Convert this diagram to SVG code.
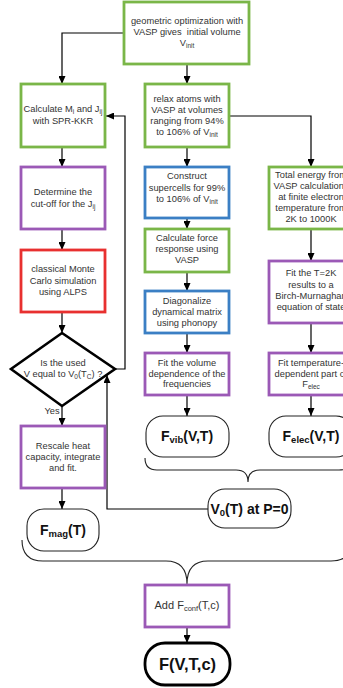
<svg xmlns="http://www.w3.org/2000/svg" width="343" height="688" viewBox="0 0 343 688">
<defs>
<marker id="ah" markerWidth="8" markerHeight="7" refX="8" refY="3.5" orient="auto" markerUnits="userSpaceOnUse">
<path d="M0,0 L8,3.5 L0,7 z" fill="#000"/>
</marker>
<style>
.box{fill:#fff;stroke-width:2.8}
.g{stroke:#7ab648}.p{stroke:#9b59b6}.b{stroke:#3b7fc4}.r{stroke:#e8302f}
.st{fill:#fff;stroke:#222;stroke-width:1.1}
.t{font-family:"Liberation Sans",Arial,sans-serif;font-size:9.3px;fill:#333;text-anchor:middle}
.bt{font-family:"Liberation Sans",Arial,sans-serif;font-size:14px;font-weight:bold;fill:#111;text-anchor:middle}
.c{fill:none;stroke:#000;stroke-width:1.2}
.br{fill:none;stroke:#222;stroke-width:1.1}
</style>
</defs>
<rect width="343" height="688" fill="#fff"/>

<g id="connectors">
<path class="c" d="M124,33 H62 V84" marker-end="url(#ah)"/>
<path class="c" d="M187,64 V84" marker-end="url(#ah)"/>
<path class="c" d="M62,147 V167" marker-end="url(#ah)"/>
<path class="c" d="M62,229 V250" marker-end="url(#ah)"/>
<path class="c" d="M62,312 V333" marker-end="url(#ah)"/>
<path class="c" d="M62,406 V426" marker-end="url(#ah)"/>
<path class="c" d="M115,369 H125 V116 H106" marker-end="url(#ah)"/>
<path class="c" d="M62,488 V509" marker-end="url(#ah)"/>
<path class="c" d="M208,509 H107 V375" marker-end="url(#ah)"/>
<path class="c" d="M187,147 V167" marker-end="url(#ah)"/>
<path class="c" d="M229,116 H311 V167" marker-end="url(#ah)"/>
<path class="c" d="M187,218 V229" marker-end="url(#ah)"/>
<path class="c" d="M187,272 V291" marker-end="url(#ah)"/>
<path class="c" d="M187,333 V353" marker-end="url(#ah)"/>
<path class="c" d="M187,395 V416" marker-end="url(#ah)"/>
<path class="c" d="M311,229 V261" marker-end="url(#ah)" stroke="#444"/>
<path class="c" d="M311,323 V353" marker-end="url(#ah)"/>
<path class="c" d="M311,395 V416" marker-end="url(#ah)"/>
<path class="c" d="M187,627 V643" marker-end="url(#ah)"/>
<text class="t" x="52" y="414">Yes</text>
<path class="br" d="M145,458 Q145,470 157,470 L236,470 Q248,470 248,482 Q248,470 260,470 L339,470 Q351,470 351,458"/>
<path class="br" d="M22,540 Q22,561 43,561 L166,561 Q187,561 187,584 Q187,561 208,561 L331,561 Q352,561 352,540"/>
</g>

<g id="geo">
<rect class="box g" x="124" y="2" width="125" height="62"/>
<text class="t" x="187" y="24">geometric optimization with</text>
<text class="t" x="187" y="35">VASP gives&#160; initial volume</text>
<text class="t" x="187" y="46">V<tspan font-size="6.5" dy="2">init</tspan></text>
</g>

<g id="calcM">
<rect class="box g" x="21" y="84" width="84" height="63"/>
<text class="t" x="63" y="112">Calculate M<tspan font-size="6.5" dy="2">i</tspan><tspan dy="-2"> and J</tspan><tspan font-size="6.5" dy="2">ij</tspan></text>
<text class="t" x="63" y="124">with SPR-KKR</text>
</g>

<g id="relax">
<rect class="box g" x="145" y="84" width="84" height="63"/>
<text class="t" x="187" y="101.5">relax atoms with</text>
<text class="t" x="187" y="112.8">VASP at volumes</text>
<text class="t" x="187" y="124">ranging from 94%</text>
<text class="t" x="187" y="135.3">to 106% of V<tspan font-size="6.5" dy="2">init</tspan></text>
</g>

<g id="cutoff">
<rect class="box p" x="21" y="167" width="84" height="62"/>
<text class="t" x="63" y="195">Determine the</text>
<text class="t" x="63" y="206.5">cut-off for the J<tspan font-size="6.5" dy="2">ij</tspan></text>
</g>

<g id="mc">
<rect class="box r" x="21" y="250" width="84" height="62"/>
<text class="t" x="63" y="272">classical Monte</text>
<text class="t" x="63" y="284">Carlo simulation</text>
<text class="t" x="63" y="295">using ALPS</text>
</g>

<g id="decision">
<path d="M62,333 L115,369 L62,406 L11,369 Z" fill="#fff" stroke="#000" stroke-width="2.6"/>
<text class="t" x="63" y="366">Is the used</text>
<text class="t" x="63" y="376.5">V equal to V<tspan font-size="6.5" dy="2">0</tspan><tspan dy="-2">(T</tspan><tspan font-size="6.5" dy="2">C</tspan><tspan dy="-2">) ?</tspan></text>
</g>

<g id="rescale">
<rect class="box p" x="21" y="426" width="84" height="62"/>
<text class="t" x="63" y="449">Rescale heat</text>
<text class="t" x="63" y="460">capacity, integrate</text>
<text class="t" x="63" y="470.5">and fit.</text>
</g>

<g id="fmag">
<rect class="st" x="27" y="509" width="72" height="42" rx="17"/>
<text class="bt" x="63" y="535">F<tspan font-size="9.5" dy="2">mag</tspan><tspan dy="-2">(T)</tspan></text>
</g>

<g id="construct">
<rect class="box b" x="145" y="167" width="84" height="51"/>
<text class="t" x="187" y="179">Construct</text>
<text class="t" x="187" y="190.5">supercells for 99%</text>
<text class="t" x="187" y="202">to 106% of V<tspan font-size="6.5" dy="2">init</tspan></text>
</g>

<g id="force">
<rect class="box g" x="145" y="229" width="84" height="43"/>
<text class="t" x="187" y="241">Calculate force</text>
<text class="t" x="187" y="252">response using</text>
<text class="t" x="187" y="263">VASP</text>
</g>

<g id="diag">
<rect class="box b" x="145" y="291" width="84" height="42"/>
<text class="t" x="187" y="304">Diagonalize</text>
<text class="t" x="187" y="315">dynamical matrix</text>
<text class="t" x="187" y="326">using phonopy</text>
</g>

<g id="fitvol">
<rect class="box p" x="145" y="353" width="84" height="42"/>
<text class="t" x="187" y="366">Fit the volume</text>
<text class="t" x="187" y="376.5">dependence of the</text>
<text class="t" x="187" y="387">frequencies</text>
</g>

<g id="fvib">
<rect class="st" x="146" y="416" width="83" height="41" rx="17"/>
<text class="bt" x="187" y="441">F<tspan font-size="9.5" dy="2">vib</tspan><tspan dy="-2">(V,T)</tspan></text>
</g>

<g id="total">
<rect class="box g" x="269" y="167" width="84" height="62"/>
<text class="t" x="311" y="178">Total energy from</text>
<text class="t" x="311" y="189">VASP calculations</text>
<text class="t" x="311" y="200">at finite electron</text>
<text class="t" x="311" y="211">temperature from</text>
<text class="t" x="311" y="222">2K to 1000K</text>
</g>

<g id="birch">
<rect class="box p" x="269" y="261" width="84" height="62"/>
<text class="t" x="311" y="276">Fit the T=2K</text>
<text class="t" x="311" y="287.5">results to a</text>
<text class="t" x="311" y="299">Birch-Murnaghan</text>
<text class="t" x="311" y="310">equation of state</text>
</g>

<g id="fittemp">
<rect class="box p" x="269" y="353" width="84" height="42"/>
<text class="t" x="311" y="366">Fit temperature-</text>
<text class="t" x="311" y="376.5">dependent part of</text>
<text class="t" x="311" y="387">F<tspan font-size="6.5" dy="2">elec</tspan></text>
</g>

<g id="felec">
<rect class="st" x="269" y="416" width="84" height="41" rx="17"/>
<text class="bt" x="311" y="441">F<tspan font-size="9.5" dy="2">elec</tspan><tspan dy="-2">(V,T)</tspan></text>
</g>

<g id="v0">
<rect class="st" x="208" y="489" width="83" height="39" rx="17"/>
<text class="bt" x="249.5" y="514">V<tspan font-size="9.5" dy="2">0</tspan><tspan dy="-2">(T) at P=0</tspan></text>
</g>

<g id="addconf">
<rect class="box p" x="145" y="585" width="84" height="42"/>
<text class="t" x="187" y="609" style="font-size:11px">Add F<tspan font-size="7.5" dy="2">conf</tspan><tspan dy="-2">(T,c)</tspan></text>
</g>

<g id="final">
<rect x="145" y="643" width="85" height="42" rx="20" fill="#fff" stroke="#000" stroke-width="2.8"/>
<text class="bt" x="187.5" y="670" style="font-size:16.5px">F(V,T,c)</text>
</g>
</svg>
